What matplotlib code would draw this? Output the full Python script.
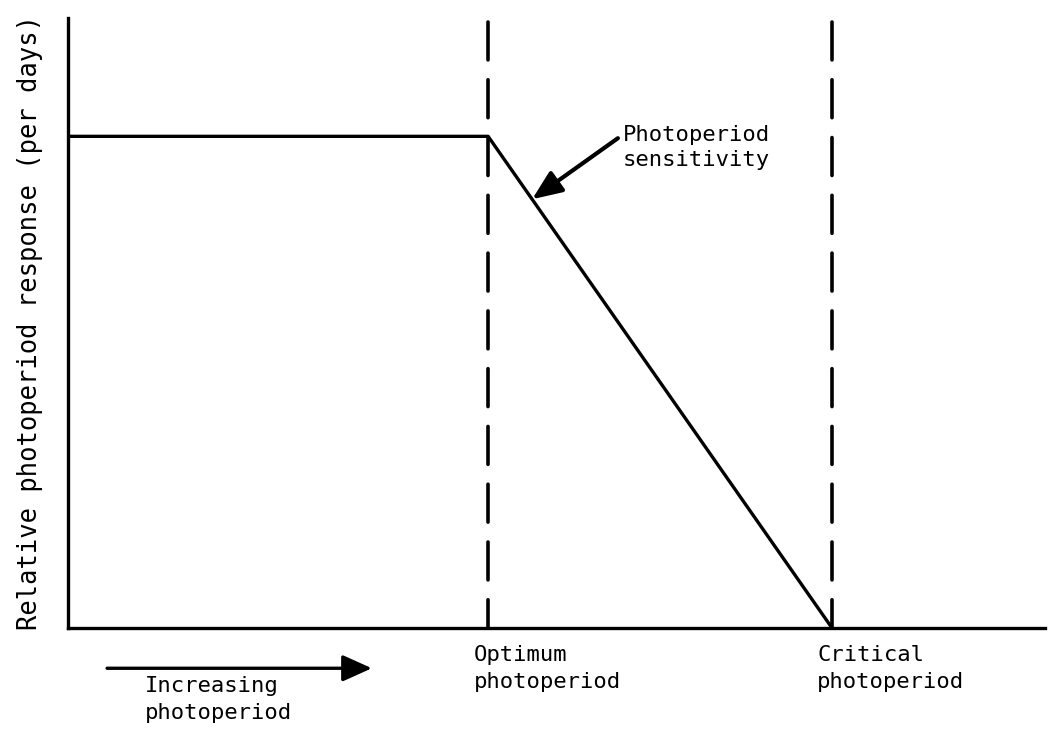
import numpy as np
import matplotlib
matplotlib.use("Agg")
import matplotlib.pyplot as plt
from matplotlib.transforms import blended_transform_factory

# datos del diagrama (unidades relativas)
optimum_x = 4.30
critical_x = 7.82
plateau_y = 0.806
curve_x = [0, optimum_x, critical_x]
curve_y = [plateau_y, plateau_y, 0]
marker_x = [optimum_x, critical_x]
marker_labels = ["Optimum\nphotoperiod", "Critical\nphotoperiod"]

plt.rcParams['font.family'] = ['DejaVu Sans Mono']
FS = 16

fig = plt.figure(figsize=(10.53, 7.4), dpi=100)
ax = fig.add_axes([68/1053, 112/740, (1045-68)/1053, (628-18)/740])
ax.set_xlim(0, 10)
ax.set_ylim(0, 1)

# respuesta fotoperiodica
ax.plot(curve_x, curve_y, color='black', lw=2.4, solid_capstyle='butt')

# lineas verticales discontinuas
for xv in marker_x:
    ax.plot([xv, xv], [0.993, 0], color='black', lw=2.6,
            linestyle=(0, (10.5, 5.5)), dash_capstyle='round')

for s in ['top', 'right']:
    ax.spines[s].set_visible(False)
for s in ['left', 'bottom']:
    ax.spines[s].set_linewidth(2.4)
ax.set_xticks([])
ax.set_yticks([])
ax.set_ylabel("Relative photoperiod response (per days)", fontsize=18.4, labelpad=18)

# etiquetas bajo el eje
trans = blended_transform_factory(ax.transData, ax.transAxes)
for xv, lab in zip(marker_x, marker_labels):
    ax.text(xv - 0.15, -0.028, lab, transform=trans, ha='left', va='top',
            fontsize=FS, linespacing=1.45)

ax.annotate("", xy=(0.311, -0.066), xytext=(0.040, -0.066), xycoords='axes fraction',
            arrowprops=dict(arrowstyle='-|>,head_length=0.6,head_width=0.27',
                            mutation_scale=30, lw=2.4, color='black',
                            shrinkA=0, shrinkB=0))
ax.text(0.079, -0.079, "Increasing\nphotoperiod", transform=ax.transAxes,
        ha='left', va='top', fontsize=FS, linespacing=1.45)

# flecha de sensibilidad
t = 0.128
tip_x = optimum_x + t*(critical_x - optimum_x)
tip_y = plateau_y*(1 - t)
ax.annotate("Photoperiod\nsensitivity", xy=(tip_x, tip_y), xytext=(5.68, 0.825),
            ha='left', va='top', fontsize=FS, linespacing=1.3,
            arrowprops=dict(arrowstyle='-|>,head_length=0.6,head_width=0.25',
                            mutation_scale=30, lw=3.0, color='black',
                            shrinkA=2, shrinkB=0, relpos=(0, 0.78)))

fig.savefig("out.png", dpi=100)
